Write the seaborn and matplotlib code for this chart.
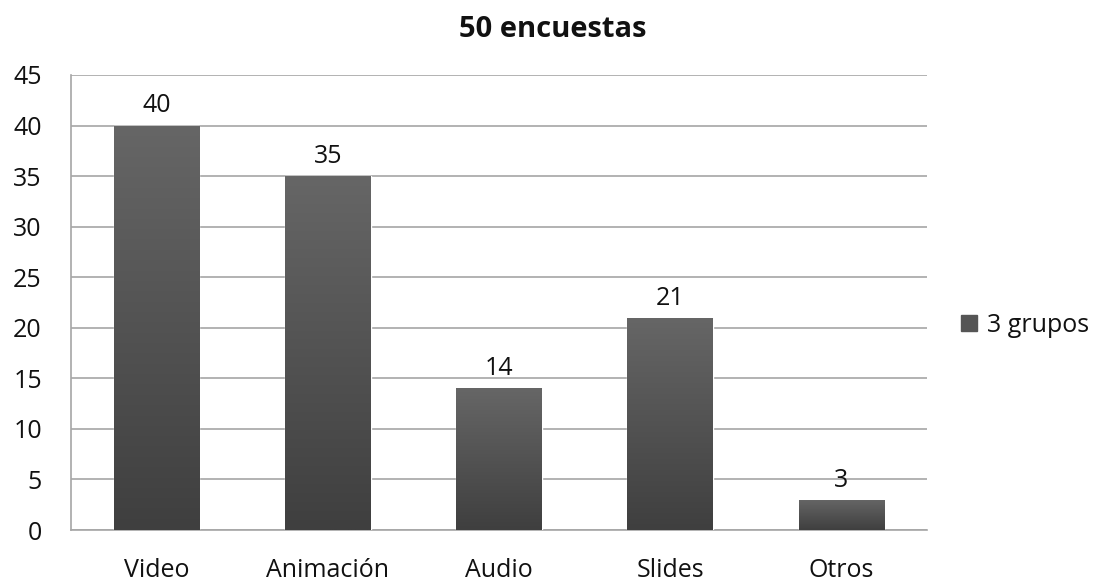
import numpy as np
import pandas as pd
import matplotlib
matplotlib.use("Agg")
import matplotlib.pyplot as plt
from matplotlib.colors import LinearSegmentedColormap
from matplotlib.patches import Rectangle
import seaborn as sns

categories = ["Video", "Animación", "Audio", "Slides", "Otros"]
values = [40, 35, 14, 21, 3]
series_name = "3 grupos"
title = "50 encuestas"
y_ticks = [0, 5, 10, 15, 20, 25, 30, 35, 40, 45]

sns.set_style("white")
plt.rcParams["font.family"] = ["Open Sans", "DejaVu Sans"]

FS = 18

df = pd.DataFrame({"categoria": categories, "valor": values})

fig = plt.figure(figsize=(10.97, 5.86), dpi=100)
ax = fig.add_axes([71 / 1097, 1 - 530 / 586, (927 - 71) / 1097, (530 - 75) / 586])

sns.barplot(data=df, x="categoria", y="valor", color="#595959", width=0.5,
            saturation=1, ax=ax, zorder=3)

# vertical gradient fill on each bar (lighter top, darker bottom)
grad_cmap = LinearSegmentedColormap.from_list("g", ["#3f3f3f", "#666666"])
grad = np.linspace(0, 1, 256).reshape(-1, 1)
for patch in list(ax.patches):
    x0, y0 = patch.get_x(), patch.get_y()
    w, h = patch.get_width(), patch.get_height()
    img = ax.imshow(grad, cmap=grad_cmap, origin="lower", aspect="auto",
                    extent=[x0, x0 + w, y0, y0 + h], zorder=4)
    clip = Rectangle((x0, y0), w, h, transform=ax.transData)
    img.set_clip_path(clip)
    ax.text(x0 + w / 2, y0 + h + 0.7, f"{values[int(round(x0 + w / 2))]}",
            ha="center", va="bottom", fontsize=FS, color="#111111", zorder=5)

ax.set_xlim(-0.5, len(categories) - 0.5)
ax.set_ylim(0, 45)
ax.set_yticks(y_ticks)
ax.set_xlabel("")
ax.set_ylabel("")

ax.grid(axis="y", color="#a6a6a6", linewidth=1.2, zorder=0)
for s in ["top", "right"]:
    ax.spines[s].set_visible(False)
for s in ["left", "bottom"]:
    ax.spines[s].set_color("#a6a6a6")
    ax.spines[s].set_linewidth(1.2)

# y ticks: short outward marks; x ticks between categories
ax.tick_params(axis="y", length=8, width=1.2, color="#a6a6a6", labelsize=FS,
               labelcolor="#111111", pad=13)
ax.set_xticks(range(len(categories)))
ax.set_xticklabels(categories)
ax.tick_params(axis="x", length=0, labelsize=FS, labelcolor="#111111", pad=20)
ax.set_xticks(np.arange(-0.5, len(categories) + 0.5, 1), minor=True)
ax.tick_params(axis="x", which="minor", length=8, width=1.2, color="#a6a6a6")

fig.suptitle(title, x=0.504, y=0.975, fontsize=21, fontweight="bold", color="#111111")

handle = plt.Line2D([], [], marker="s", linestyle="", markersize=11,
                    markerfacecolor="#555555", markeredgecolor="#555555")
fig.legend([handle], [series_name], loc="center left",
           bbox_to_anchor=(934 / 1097, 1 - 325 / 586), frameon=False,
           fontsize=FS, handletextpad=0.2, handlelength=1.0,
           labelcolor="#111111")

fig.savefig("out.png", dpi=100, facecolor="white")
